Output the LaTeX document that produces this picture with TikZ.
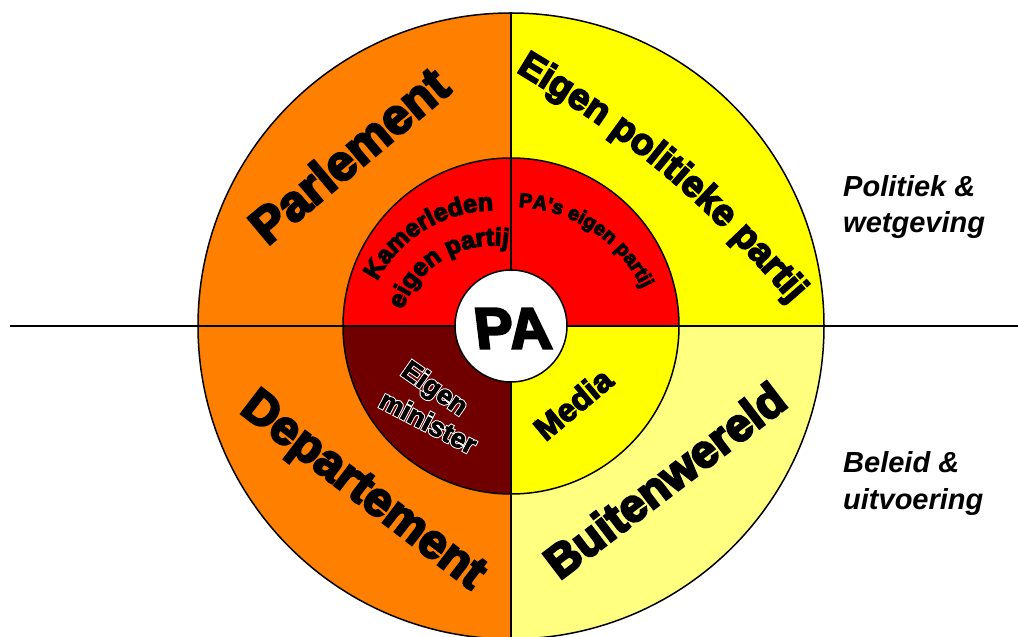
\documentclass[tikz,border=0pt]{standalone}
\usepackage{fontspec}
\setmainfont{Liberation Sans}
\newfontfamily\heavy{Liberation Sans Bold}
\usetikzlibrary{decorations.text,calc}
\definecolor{cOrange}{HTML}{FF8000}
\definecolor{cYellow}{HTML}{FFFF00}
\definecolor{cLight}{HTML}{FFFF80}
\definecolor{cRed}{HTML}{FF0000}
\definecolor{cDark}{HTML}{700000}
\newcommand\whiteunder[1]{\special{pdf:code 2 Tr 2.6 w 1 1 1 RG}#1}
\newcommand\thick[1]{\special{pdf:code 2 Tr 2.4 w 0 0 0 RG}#1}
\newcommand\thin[1]{\special{pdf:code 2 Tr 1.4 w 0 0 0 RG}#1}
\newcommand\slight[1]{\special{pdf:code 2 Tr 0.6 w 0 0 0 RG}#1}
\begin{document}
\begin{tikzpicture}[x=1pt,y=1pt,
  ring/.style={line width=1.5pt, draw=black},
  big/.style={font=\heavy\fontsize{#1}{#1}\selectfont, inner sep=0pt, text height={#1pt*0.72}, text depth=0pt},
  side/.style={font=\bfseries\itshape\fontsize{29}{29}\selectfont, anchor=base west, inner sep=0pt},
  curvetext/.style={decorate, decoration={text along path, text align=center, text={#1}}}
]
\useasboundingbox (0,0) rectangle (1018,637);
\coordinate (C) at (511,311);
% outer ring sectors
\fill[cOrange] (C) -- (198,311) arc[start angle=180,end angle=90,radius=313] -- cycle;
\fill[cYellow] (C) -- (511,624) arc[start angle=90,end angle=0,radius=313] -- cycle;
\fill[cLight]  (C) -- (824,311) arc[start angle=0,end angle=-90,radius=313] -- cycle;
\fill[cOrange] (C) -- (511,-2) arc[start angle=270,end angle=180,radius=313] -- cycle;
% inner ring sectors
\fill[cRed]    (C) -- (343,311) arc[start angle=180,end angle=90,radius=168] -- cycle;
\fill[cRed]    (C) -- (511,479) arc[start angle=90,end angle=0,radius=168] -- cycle;
\fill[cYellow] (C) -- (679,311) arc[start angle=0,end angle=-90,radius=168] -- cycle;
\fill[cDark]   (C) -- (511,143) arc[start angle=270,end angle=180,radius=168] -- cycle;
% lines and circles
\coordinate (hl) at (10,311);
\coordinate (hr) at (1018,311);
\coordinate (vt) at (511,624);
\coordinate (vb) at (511,-2);
\draw[ring] (hl) -- (hr);
\draw[ring] (vt) -- (vb);
\draw[ring] (C) circle[radius=313];
\draw[ring] (C) circle[radius=168];
% outlined text in the dark sector: white stroked underlay, black text on top
\node[big=27, rotate=-35, text=white] (eigenu) at (435.5,249.5) {\whiteunder{Eigen}};
\node[big=27, rotate=-27.5, text=white] (ministeru) at (428.5,215) {\whiteunder{minister}};
\node[big=27, rotate=-35] (eigen) at (435.5,249.5) {\slight{Eigen}};
\node[big=27, rotate=-27.5] (minister) at (428.5,215) {\slight{minister}};
\node[circle, draw, fill=white, line width=1.5pt, minimum size=112pt, inner sep=0pt] (pacircle) at (C) {};
\node[big=58, xslant=-0.12, transform shape] (pa) at (512.5,309.5) {\thick{PA}};
% outer labels
\node[big=50, rotate=40] (parl) at (348.5,482) {\thick{Parlement}};
\node[big=48, rotate=-37.5] (dep) at (365.5,149.5) {\thick{Departement}};
\node[big=46, rotate=37.3] (buit) at (664.5,157) {\thick{Buitenwereld}};
\coordinate (eppA) at (515,566);
\coordinate (eppB) at (792,333);
\path[curvetext={|\heavy\fontsize{37}{37}\selectfont\special{pdf:code 2 Tr 1.8 w 0 0 0 RG}|Eigen politieke partij}] (eppA) to[bend left=9] (eppB);
% inner labels
\coordinate (K0) at (493.5,295.5);
\path[curvetext={|\heavy\fontsize{25}{25}\selectfont\special{pdf:code 2 Tr 1.2 w 0 0 0 RG}|Kamerleden}] ([shift={(191.3:131)}]K0) arc[start angle=191.3,end angle=51.3,radius=131];
\path[curvetext={|\heavy\fontsize{25}{25}\selectfont\special{pdf:code 2 Tr 1.2 w 0 0 0 RG}|eigen partij}] ([shift={(191:96)}]K0) arc[start angle=191,end angle=51,radius=96];
\coordinate (P0) at (512.3,286.1);
\path[curvetext={|\heavy\fontsize{20}{20}\selectfont\special{pdf:code 2 Tr 1 w 0 0 0 RG}|PA's eigen partij}] ([shift={(126.5:144)}]P0) arc[start angle=126.5,end angle=-13.5,radius=144];
\node[big=32, rotate=40] (media) at (573,233) {\thin{Media}};
% side labels
\node[side] (pol1) at (843,440) {Politiek \&};
\node[side] (pol2) at (843,404) {wetgeving};
\node[side] (bel1) at (843,164) {Beleid \&};
\node[side] (bel2) at (843,127) {uitvoering};
\end{tikzpicture}
\end{document}
